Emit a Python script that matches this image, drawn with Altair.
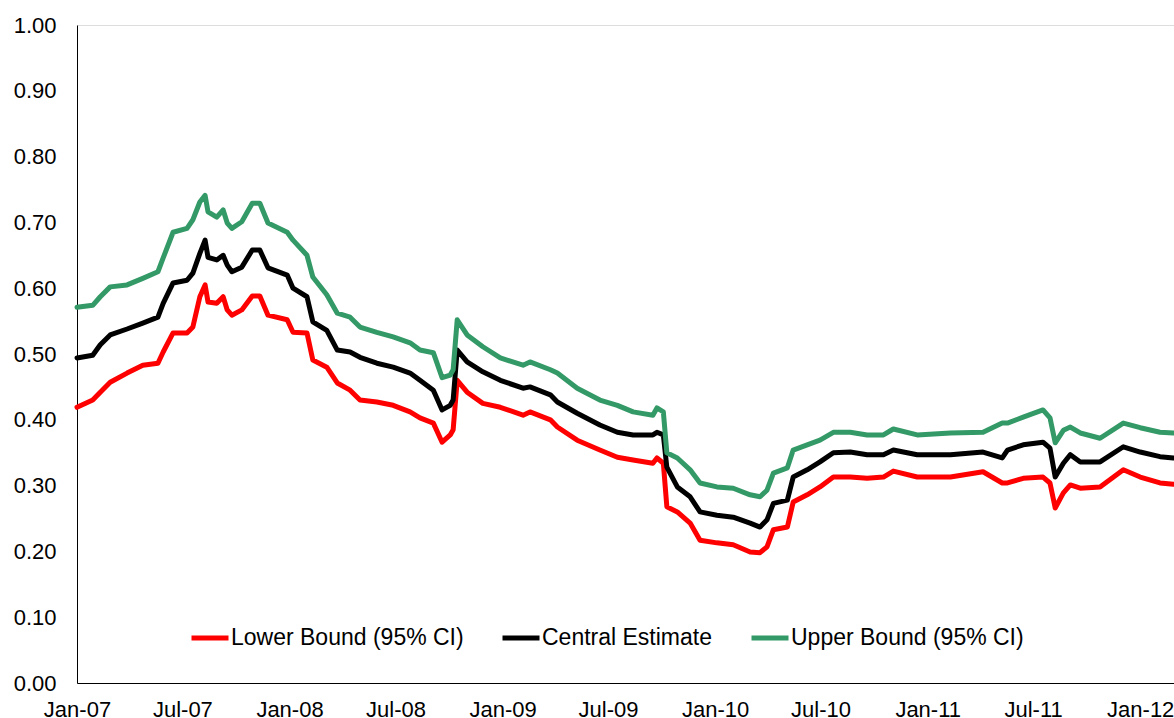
import altair as alt
import pandas as pd

# Observation dates (semi-monthly readings plus turning points)
dates = [
    "2007-01-01", "2007-01-28", "2007-02-10", "2007-02-27", "2007-03-28", "2007-04-24",
    "2007-05-20", "2007-05-29", "2007-06-15", "2007-07-09", "2007-07-19", "2007-07-31",
    "2007-08-09", "2007-08-14", "2007-08-29", "2007-09-09", "2007-09-16", "2007-09-24",
    "2007-10-11", "2007-10-29", "2007-11-11", "2007-11-25", "2007-12-28",
    "2008-01-07", "2008-01-31", "2008-02-10", "2008-03-05", "2008-03-23", "2008-04-14",
    "2008-05-01", "2008-05-30", "2008-06-27", "2008-07-26", "2008-08-12", "2008-09-04",
    "2008-09-19", "2008-10-03", "2008-10-08", "2008-10-15", "2008-11-01", "2008-11-28",
    "2008-12-28",
    "2009-02-05", "2009-02-17", "2009-03-24", "2009-04-05", "2009-05-09", "2009-06-17",
    "2009-07-17", "2009-08-13", "2009-09-16", "2009-09-23", "2009-10-04", "2009-10-10",
    "2009-10-28", "2009-11-19", "2009-12-06",
    "2010-01-04", "2010-02-01", "2010-03-02", "2010-03-19", "2010-03-31", "2010-04-11",
    "2010-05-05", "2010-05-15", "2010-06-08", "2010-06-30", "2010-07-23", "2010-08-21",
    "2010-09-19", "2010-10-17", "2010-11-03", "2010-12-14",
    "2011-02-09", "2011-04-06", "2011-05-09", "2011-05-18", "2011-06-14", "2011-07-18",
    "2011-07-30", "2011-08-08", "2011-08-22", "2011-09-03", "2011-09-20", "2011-10-24",
    "2011-12-03",
    "2012-01-01", "2012-02-04", "2012-02-27",
]

lower = [
    0.419, 0.430, 0.442, 0.457, 0.471, 0.483, 0.486, 0.503, 0.532, 0.532, 0.541, 0.587,
    0.605, 0.579, 0.577, 0.587, 0.567, 0.559, 0.567, 0.588, 0.588, 0.559, 0.552,
    0.533, 0.532, 0.491, 0.480, 0.456, 0.445, 0.430, 0.427, 0.422, 0.412, 0.403, 0.395,
    0.366, 0.377, 0.385, 0.460, 0.442, 0.425, 0.419,
    0.407, 0.412, 0.400, 0.389, 0.369, 0.354, 0.343, 0.339, 0.334, 0.342, 0.334, 0.268,
    0.260, 0.243, 0.217,
    0.213, 0.210, 0.199, 0.198, 0.207, 0.233, 0.237, 0.275, 0.286, 0.298, 0.313, 0.313,
    0.311, 0.313, 0.322, 0.313,
    0.313, 0.321, 0.304, 0.304, 0.311, 0.313, 0.304, 0.266, 0.289, 0.301, 0.296, 0.298,
    0.324,
    0.313, 0.304, 0.302,
]

central = [
    0.494, 0.498, 0.514, 0.529, 0.538, 0.547, 0.556, 0.577, 0.608, 0.612, 0.623, 0.653,
    0.673, 0.647, 0.643, 0.650, 0.635, 0.625, 0.632, 0.658, 0.658, 0.631, 0.620,
    0.600, 0.587, 0.549, 0.536, 0.506, 0.503, 0.495, 0.486, 0.480, 0.471, 0.460, 0.445,
    0.415, 0.422, 0.430, 0.506, 0.488, 0.473, 0.460,
    0.448, 0.450, 0.438, 0.427, 0.410, 0.392, 0.381, 0.377, 0.377, 0.381, 0.377, 0.328,
    0.298, 0.283, 0.260,
    0.255, 0.252, 0.243, 0.237, 0.248, 0.273, 0.278, 0.313, 0.324, 0.336, 0.350, 0.351,
    0.347, 0.347, 0.354, 0.347,
    0.347, 0.351, 0.342, 0.354, 0.362, 0.366, 0.357, 0.313, 0.334, 0.347, 0.336, 0.336,
    0.359,
    0.351, 0.344, 0.342,
]

upper = [
    0.571, 0.574, 0.587, 0.602, 0.605, 0.615, 0.625, 0.646, 0.685, 0.691, 0.704, 0.731,
    0.741, 0.716, 0.708, 0.719, 0.699, 0.691, 0.701, 0.729, 0.729, 0.699, 0.685,
    0.673, 0.650, 0.617, 0.590, 0.562, 0.556, 0.541, 0.533, 0.526, 0.517, 0.506, 0.502,
    0.464, 0.468, 0.476, 0.552, 0.529, 0.511, 0.494,
    0.483, 0.488, 0.476, 0.471, 0.448, 0.430, 0.422, 0.412, 0.407, 0.418, 0.412, 0.350,
    0.342, 0.324, 0.304,
    0.298, 0.296, 0.286, 0.283, 0.293, 0.319, 0.327, 0.354, 0.362, 0.369, 0.381, 0.381,
    0.377, 0.377, 0.386, 0.377,
    0.380, 0.381, 0.395, 0.395, 0.404, 0.415, 0.403, 0.365, 0.384, 0.389, 0.380, 0.372,
    0.395,
    0.388, 0.381, 0.380,
]

series_names = ["Lower Bound (95% CI)", "Central Estimate", "Upper Bound (95% CI)"]
series_colors = ["#FF0000", "#000000", "#339966"]
x_tick_dates = [
    "2007-01-01", "2007-07-01", "2008-01-01", "2008-07-01", "2009-01-01", "2009-07-01",
    "2010-01-01", "2010-07-01", "2011-01-01", "2011-07-01", "2012-01-01",
]
y_ticks = [round(i * 0.1, 1) for i in range(11)]

rows = []
for name, vals in zip(series_names, [lower, central, upper]):
    for d, v in zip(dates, vals):
        rows.append({"date": d, "value": v, "series": name})
df = pd.DataFrame(rows)

FONT = "Liberation Sans"

axis_common = dict(
    title=None,
    ticks=False,
    tickSize=0,
    grid=False,
    domainColor="#000000",
    domainWidth=1,
    labelFont=FONT,
    labelFontSize=22,
    labelColor="#000000",
    labelFlush=False,
    labelOverlap=False,
)

chart = (
    alt.Chart(df)
    .mark_line(strokeWidth=5, strokeJoin="round", strokeCap="round")
    .encode(
        x=alt.X(
            "date:T",
            scale=alt.Scale(domain=["2007-01-01", "2012-02-28"], nice=False),
            axis=alt.Axis(format="%b-%y", values=x_tick_dates, labelPadding=16, **axis_common),
        ),
        y=alt.Y(
            "value:Q",
            scale=alt.Scale(domain=[0, 1], nice=False, zero=True),
            axis=alt.Axis(format=".2f", values=y_ticks, labelPadding=21, **axis_common),
        ),
        color=alt.Color(
            "series:N",
            sort=series_names,
            scale=alt.Scale(domain=series_names, range=series_colors),
            legend=alt.Legend(
                title=None,
                orient="none",
                direction="horizontal",
                legendX=112,
                legendY=592,
                padding=0,
                symbolType="stroke",
                symbolSize=1369,
                symbolStrokeWidth=5,
                labelOffset=0,
                columnPadding=28,
                labelFont=FONT,
                labelFontSize=23,
                labelColor="#000000",
                labelLimit=0,
            ),
        ),
        detail="series:N",
    )
    .properties(
        width=1097,
        height=658,
        autosize=alt.AutoSizeParams(type="none"),
        padding={"left": 77, "top": 25, "right": 0, "bottom": 35},
    )
    .configure_view(stroke=None)
    .configure(background="#FFFFFF")
)

chart.save("out.html", embed_options={"renderer": "svg", "actions": False})
